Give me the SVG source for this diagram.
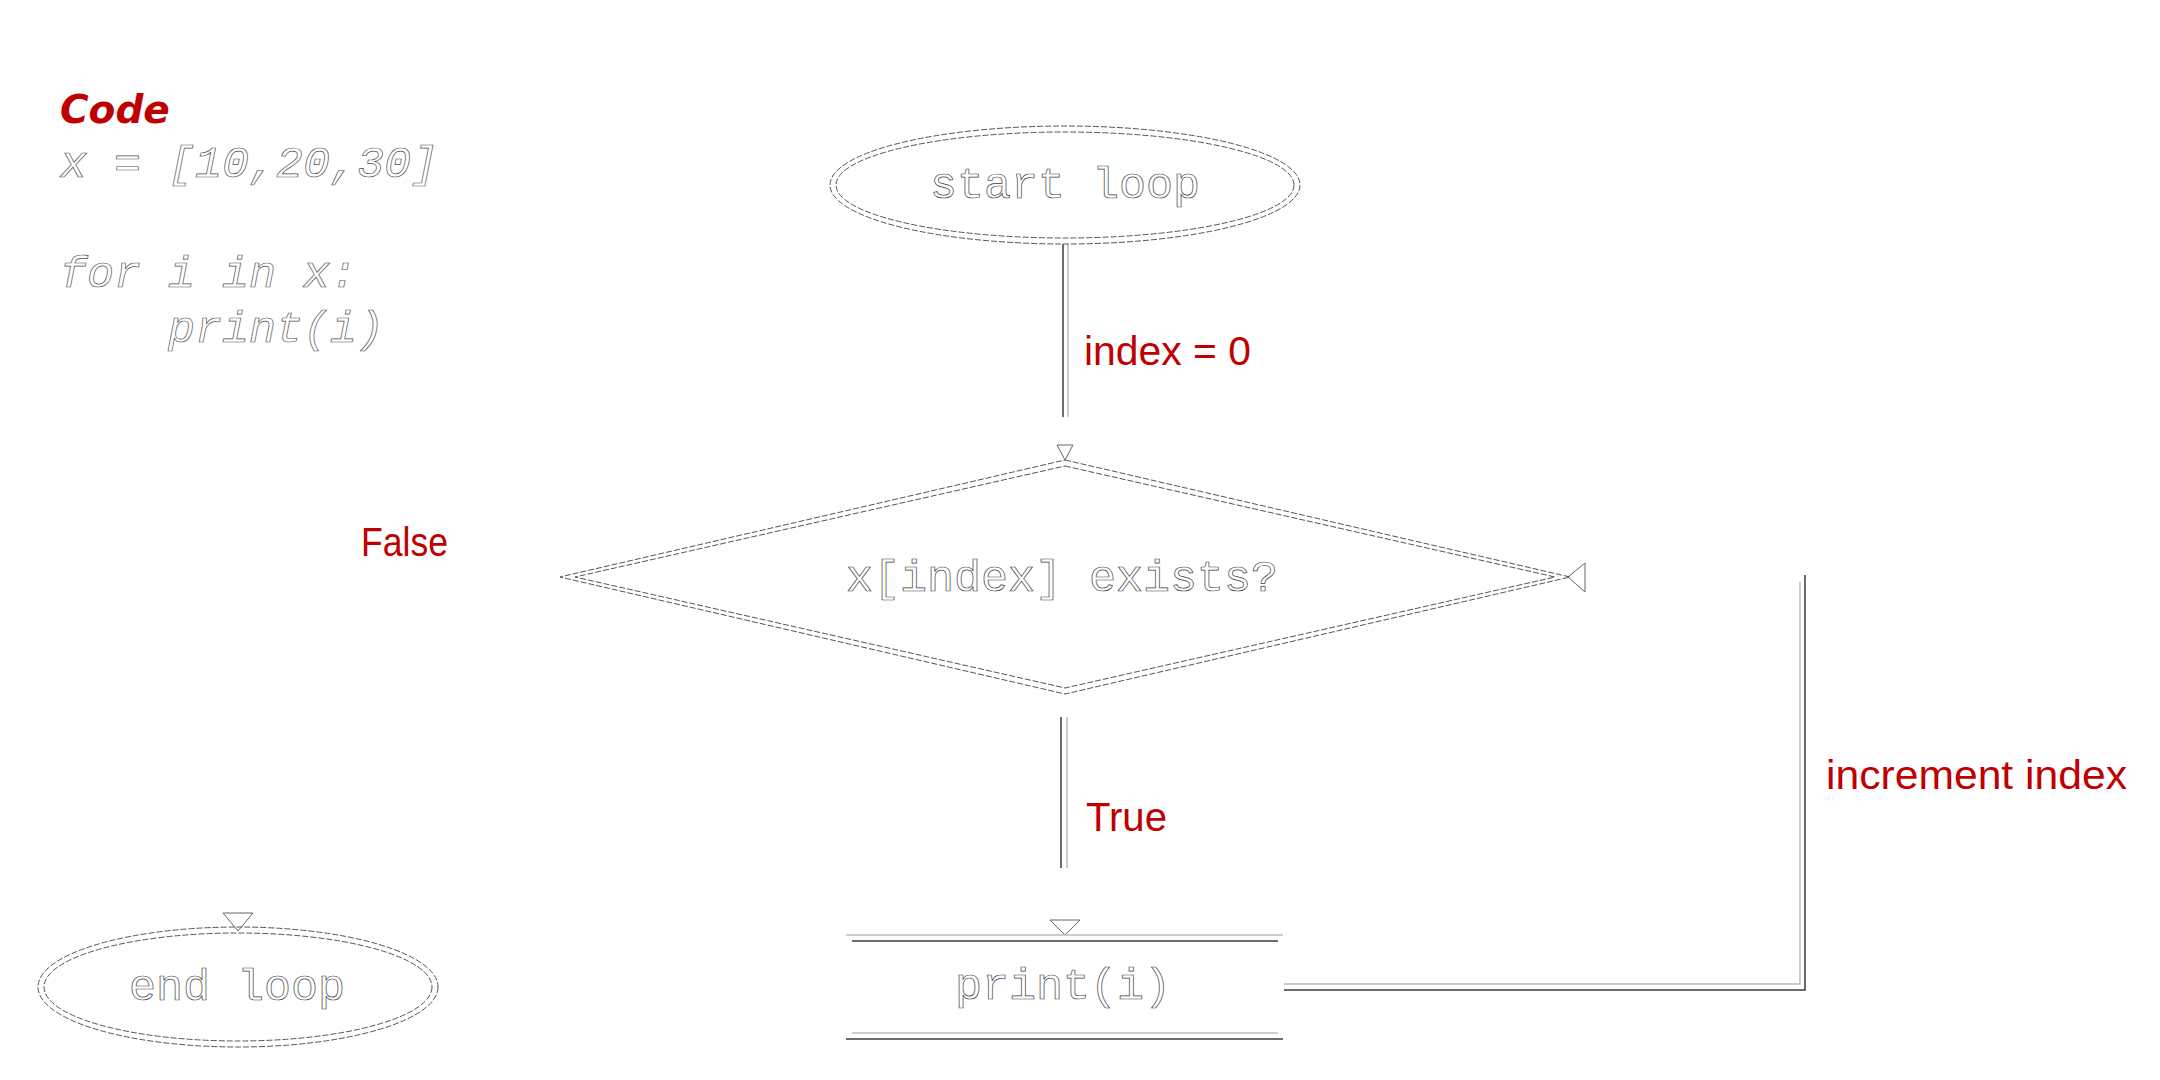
<svg xmlns="http://www.w3.org/2000/svg" width="2160" height="1080" viewBox="0 0 2160 1080">
<style>
.bg{fill:#ffffff}
.hollow{fill:#ffffff;stroke:#404040;stroke-width:0.7;font-family:"Liberation Mono","Courier New",monospace;font-size:45px}
.code{font-style:italic;stroke:#505050}
.outline{fill:none;stroke:#555;stroke-width:1;stroke-dasharray:6 2}
.dark{fill:none;stroke:#3c3c3c;stroke-width:1.5}
.light{fill:none;stroke:#bdbdbd;stroke-width:1.5}
.arrow{fill:#ffffff;stroke:#666;stroke-width:1}
.lbl{fill:#C00000;font-family:"Liberation Sans",Arial,sans-serif;font-size:40px}
.title{fill:#C00000;font-family:"DejaVu Sans",Verdana,sans-serif;font-size:39px;font-weight:bold;font-style:italic}
</style>
<rect class="bg" x="0" y="0" width="2160" height="1080"/>

<g id="code-block">
  <text class="title" x="60" y="123">Code</text>
  <text class="hollow code" x="60" y="177">x = [10,20,30]</text>
  <text class="hollow code" x="60" y="287">for i in x:</text>
  <text class="hollow code" x="168" y="342">print(i)</text>
</g>

<g id="connectors">
  <!-- start loop -> diamond -->
  <line class="dark" x1="1063" y1="244" x2="1063" y2="417"/>
  <line class="light" x1="1068" y1="244" x2="1068" y2="417"/>
  <polygon class="arrow" points="1057,445 1073,445 1065,460"/>
  <text class="lbl" x="1084" y="365" textLength="167" lengthAdjust="spacingAndGlyphs">index = 0</text>

  <!-- diamond -> print(i) -->
  <line class="dark" x1="1061" y1="717" x2="1061" y2="868"/>
  <line class="light" x1="1067" y1="717" x2="1067" y2="868"/>
  <polygon class="arrow" points="1050,920 1080,920 1065,935"/>
  <text class="lbl" x="1086" y="831" textLength="81" lengthAdjust="spacingAndGlyphs">True</text>

  <!-- print(i) -> diamond (increment index) -->
  <polyline class="light" points="1284,984 1800,984 1800,582"/>
  <polyline class="dark" points="1284,990 1805,990 1805,575"/>
  <polygon class="arrow" points="1585,563 1585,592 1568,577"/>
  <text class="lbl" x="1826" y="789" textLength="301" lengthAdjust="spacingAndGlyphs">increment index</text>

  <!-- diamond -> end loop (False) -->
  <polygon class="arrow" points="223,913 253,913 238,931"/>
  <text class="lbl" x="361" y="556" textLength="87" lengthAdjust="spacingAndGlyphs">False</text>
</g>

<g id="start-loop">
  <ellipse class="outline" cx="1065" cy="185" rx="235" ry="59"/>
  <ellipse class="outline" cx="1065" cy="185" rx="229" ry="53"/>
  <text class="hollow" x="1065" y="198" text-anchor="middle">start loop</text>
</g>

<g id="condition">
  <polygon class="outline" points="1065,460 1570,577 1065,694 560,577"/>
  <polygon class="outline" points="1065,466 1555,577 1065,688 575,577"/>
  <text class="hollow" x="1062" y="591" text-anchor="middle">x[index] exists?</text>
</g>

<g id="print-i">
  <line class="light" x1="846" y1="935" x2="1283" y2="935"/>
  <line class="dark" x1="852" y1="941" x2="1278" y2="941"/>
  <line class="light" x1="852" y1="1033" x2="1278" y2="1033"/>
  <line class="dark" x1="846" y1="1039" x2="1283" y2="1039"/>
  <text class="hollow" x="1063" y="999" text-anchor="middle">print(i)</text>
</g>

<g id="end-loop">
  <ellipse class="outline" cx="238" cy="987" rx="200" ry="60"/>
  <ellipse class="outline" cx="238" cy="987" rx="194" ry="54"/>
  <text class="hollow" x="237" y="1000" text-anchor="middle">end loop</text>
</g>
</svg>
